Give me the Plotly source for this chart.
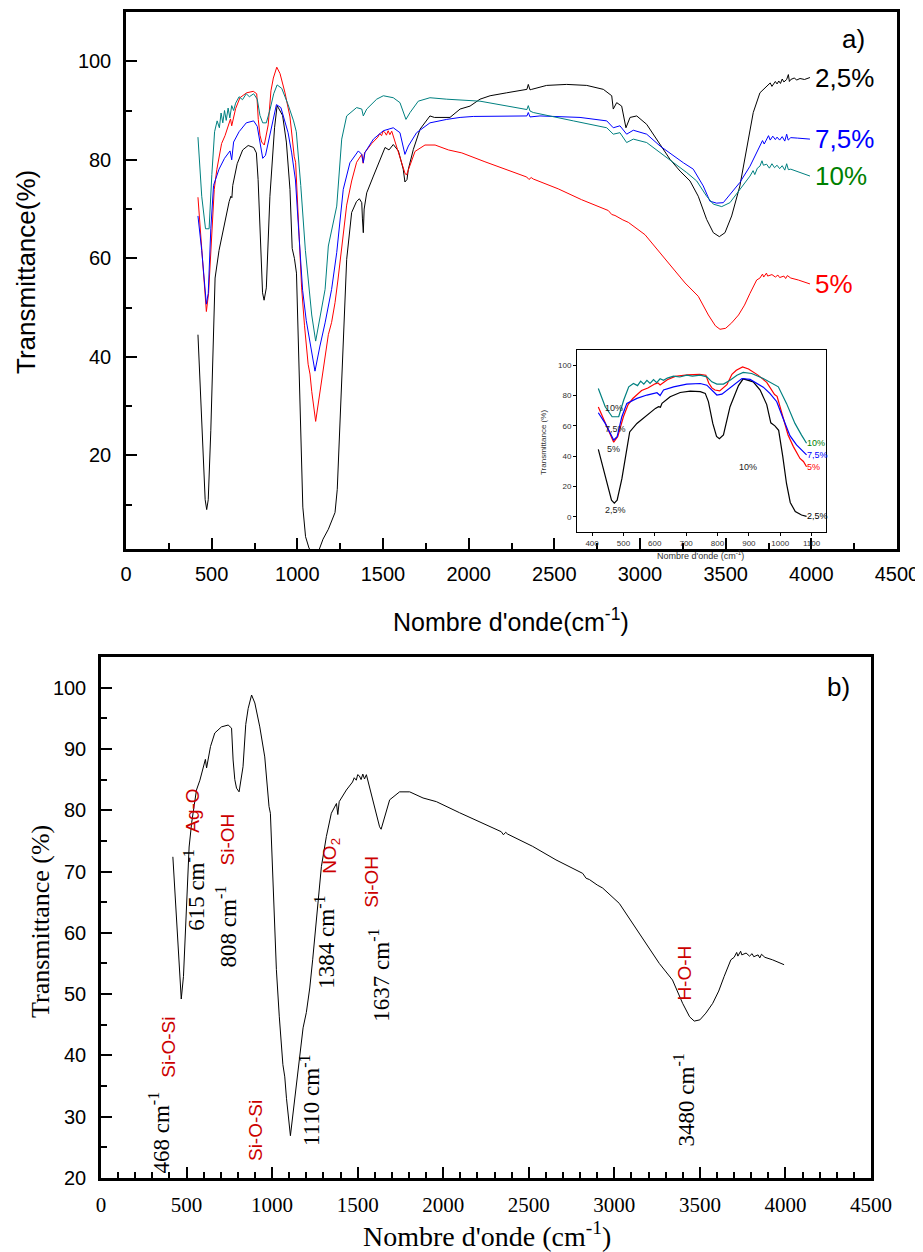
import plotly.graph_objects as go

# page body adds an 8px offset; the figure is sized so that the picture fills 923x1252
OFF = 8
W, H = 923 - OFF, 1252 - OFF

# ---------------- data (wavenumber cm-1, transmittance %) ----------------
wn_25 = [420, 445, 462, 471, 480, 495, 506, 520, 543, 575, 602, 612, 618, 623, 649, 681, 713,
         745, 761, 771, 785, 797, 806, 819, 840, 867, 882, 914, 936, 957, 970, 983, 995, 1008,
         1020, 1032, 1048, 1068, 1084, 1100, 1118, 1132, 1150, 1181, 1220, 1233, 1249, 1268,
         1288, 1317, 1345, 1362, 1376, 1380, 1385, 1390, 1395, 1405, 1444, 1483, 1512, 1535,
         1560, 1590, 1618, 1628, 1640, 1648, 1677, 1716, 1774, 1800, 1833, 1891, 1950, 2008,
         2066, 2125, 2222, 2319, 2340, 2348, 2358, 2368, 2455, 2572, 2689, 2786, 2835, 2844,
         2864, 2893, 2918, 2942, 2981, 3039, 3097, 3175, 3234, 3292, 3340, 3389, 3428, 3463,
         3496, 3535, 3583, 3622, 3661, 3700, 3739, 3760, 3770, 3778, 3790, 3800, 3810, 3820,
         3830, 3840, 3856, 3866, 3872, 3880, 3900, 3915, 3934, 3960, 3992]
t_25 = [44.5, 24, 11, 9, 11, 25, 38, 56, 61.6, 67.1, 71.5, 72.6, 72.3, 74.8, 79.2, 82.0, 82.9,
        82.5, 81.4, 76, 61.6, 53, 51.5, 54, 72.6, 86.5, 91, 89, 83.6, 74, 62, 60, 57, 40,
        22, 9.5, 3.5, 1.2, 0.3, -0.5, 0, 1.5, 3, 5, 8.4, 13.1, 26.6, 43.6,
        59.8, 69.3, 71.5, 72.1, 71.3, 68, 65.2, 70, 71.3, 73.3, 76.7, 80.1, 82.5, 82.0,
        83.1, 81.8, 78.1, 75.5, 76, 78.1, 82.1, 86.2, 88.9, 88.6, 88.6, 88.6, 90.3, 90.9,
        92.3, 93, 93.6, 94.3, 94.3, 95.3, 94.2, 94.3, 95.1, 95.3, 95.1, 94.3, 93, 90.3,
        91.6, 90.9, 86.5, 88.6, 88.9, 87.2, 84.2, 80.1, 77.7, 75.7, 72.6, 67.9, 65.2, 64.4,
        65.2, 68.6, 74.7, 82.1, 89.6, 93.6, 95, 95.6, 94.9, 95.3, 95.9, 95.4, 96.0, 95.5,
        96.4, 95.8, 96.3, 97.3, 95.9, 96.3, 96.6, 96.2, 96.5, 96.3, 96.7]

wn_5 = [420, 442, 469, 482, 500, 515, 530, 558, 578, 601, 610, 617, 626, 640, 665, 704, 743,
        763, 772, 782, 792, 807, 830, 846, 860, 880, 899, 928, 957, 982, 990, 1006, 1025,
        1042, 1063, 1074, 1084, 1107, 1132, 1162, 1181, 1200, 1220, 1237, 1255, 1268, 1288,
        1317, 1346, 1376, 1384, 1392, 1434, 1470, 1480, 1492, 1500, 1510, 1520, 1530, 1540,
        1551, 1560, 1570, 1599, 1628, 1637, 1648, 1687, 1745, 1804, 1882, 1960, 2095, 2212,
        2339, 2352, 2365, 2377, 2523, 2659, 2815, 2835, 2854, 2900, 2932, 3029, 3107, 3185,
        3263, 3340, 3399, 3440, 3467, 3500, 3535, 3575, 3610, 3642, 3681, 3700, 3715, 3722,
        3738, 3745, 3770, 3790, 3805, 3815, 3840, 3850, 3860, 3880, 3924, 3992]
t_5 = [72.4, 61.6, 49.2, 52.9, 66, 74, 78, 83.3, 84.9, 87.7, 88.3, 86.9, 88.2, 90.4, 92.6,
       93.6, 93.9, 93.4, 88.2, 85, 83.6, 83.0, 87.1, 94, 96.6, 98.8, 97.5, 93.6, 88.7, 80.6,
       79.5, 68.1, 54, 46.3, 38.5, 36.5, 33, 26.9, 32.7, 39.3, 44.5, 47, 51, 55.6, 61, 66,
       70.8, 75.7, 79.5, 81.1, 79.3, 81.4, 83.3, 84.6, 85.3, 84.9, 85.8, 85.6, 85.0, 85.9,
       85.1, 85.8, 84.8, 84.1, 80.6, 77.3, 76.9, 77.9, 81.7, 83.0, 83.0, 82.0, 81.4, 79.6,
       78.1, 76.5, 76.0, 76.4, 76.1, 74.1, 71.9, 69.7, 68.9, 68.7, 67.8, 67.3, 64.8, 61.6,
       58.3, 55.0, 52.3, 48.5, 46.3, 45.6, 45.8, 46.9, 48.5, 50.5, 52.9, 55.6, 56.0, 56.8,
       56.2, 57.0, 56.4, 56.7, 56.2, 56.6, 56.1, 56.4, 55.9, 56.5, 56.0, 55.6, 54.8]

wn_75 = [420, 442, 469, 480, 495, 511, 543, 575, 607, 617, 628, 660, 702, 745, 766, 782, 798,
         814, 836, 862, 878, 904, 925, 946, 967, 989, 1010, 1031, 1052, 1064, 1084, 1103,
         1132, 1162, 1200, 1230, 1268, 1307, 1356, 1376, 1385, 1395, 1444, 1502, 1560, 1599,
         1628, 1648, 1696, 1774, 1872, 1950, 2027, 2340, 2348, 2358, 2416, 2650, 2806, 2844,
         2883, 2922, 2961, 3039, 3117, 3195, 3253, 3311, 3369, 3408, 3447, 3486, 3525, 3583,
         3642, 3700, 3715, 3725, 3739, 3750, 3760, 3775, 3790, 3800, 3815, 3830, 3845, 3856,
         3865, 3880, 3920, 3992]
t_75 = [68.6, 61.6, 50.7, 52.9, 66, 74.8, 78.1, 80.3, 81.8, 80.0, 83.6, 85.7, 87.5, 87.9, 86.8,
        83.6, 80.3, 80.9, 84.6, 89.0, 91.2, 90.6, 87.9, 85.5, 81.4, 75.9, 64.5, 53.5, 47.4,
        44.9, 40.8, 37.1, 42.2, 46.9, 53.7, 61.2, 74, 79.4, 81.8, 81.1, 79.4, 81.5, 84.2,
        85.9, 86.5, 85.5, 81.1, 82.8, 85.5, 87.5, 88.2, 88.6, 88.8, 88.9, 89.6, 88.7, 88.9,
        88.6, 87.9, 86.5, 86.9, 85.2, 86, 85.2, 82.8, 80.8, 79.4, 78.1, 74.7, 71.6, 71.2,
        71.3, 73, 75.4, 78.7, 82.8, 83.9, 83.2, 84.2, 84.9, 84.0, 84.8, 84.1, 84.6, 84.0,
        84.7, 83.8, 85.2, 84.0, 84.5, 84.4, 84.2]

wn_10 = [420, 442, 464, 485, 501, 517, 532, 545, 555, 565, 575, 585, 596, 606, 617, 628, 640,
         660, 680, 702, 720, 745, 766, 782, 798, 819, 840, 862, 882, 909, 946, 978, 994, 1020,
         1047, 1068, 1084, 1107, 1132, 1162, 1181, 1230, 1259, 1288, 1346, 1376, 1385, 1405,
         1463, 1502, 1560, 1599, 1634, 1658, 1706, 1774, 1872, 1950, 2066, 2340, 2348, 2358,
         2377, 2611, 2806, 2844, 2883, 2922, 2961, 3039, 3117, 3195, 3273, 3331, 3389, 3428,
         3477, 3525, 3583, 3642, 3660, 3670, 3685, 3700, 3712, 3720, 3739, 3755, 3770, 3785,
         3800, 3815, 3830, 3845, 3856, 3866, 3880, 3934, 3992]
t_10 = [84.6, 72.6, 66, 66, 77, 85.7, 87.9, 86.5, 89.5, 87.5, 90, 88, 90.5, 88.5, 91, 90, 91.5,
        92.8, 92.2, 93.4, 92.8, 93.4, 92.3, 89.0, 87.5, 87.5, 90.1, 93.4, 95.2, 94.5, 91.2,
        87.9, 85.7, 74.8, 61.6, 53.9, 48.5, 43.2, 48.3, 53.7, 62.5, 70.6, 84.2, 88.9, 90.6,
        90.3, 88.9, 90.3, 92.3, 93, 92.6, 91.6, 88.2, 89.6, 91.9, 92.6, 92.3, 92.1, 91.9,
        90.2, 91.0, 89.9, 89.6, 87.9, 86.5, 85.2, 85.5, 83.5, 84.2, 83.5, 81.5, 79.4, 77.4,
        75.7, 72.6, 71, 70.5, 71.3, 74, 76.7, 77.8, 77.0, 78.3, 78.7, 79.8, 78.9, 79.1,
        78.3, 79.2, 78.4, 78.9, 78.2, 78.8, 77.9, 79.2, 78.0, 78.1, 77.4, 76.7]

series_names = ["2,5%", "5%", "7,5%", "10%"]
line_colors = ["black", "#ff0000", "#0000ff", "#008080"]
label_colors = ["black", "#ff0000", "#0000ff", "#008000"]
series_x = [wn_25, wn_5, wn_75, wn_10]
series_y = [t_25, t_5, t_75, t_10]

INSET_MAX = 1084

SANS = "Liberation Sans, Arial, sans-serif"
SERIF = "Liberation Serif, Times New Roman, serif"
RED = "#cc0000"

fig = go.Figure()

# ---------------- panel a) main ----------------
for nm, xs, ys, c in zip(series_names, series_x, series_y, line_colors):
    fig.add_trace(go.Scatter(x=xs, y=ys, mode="lines", line=dict(color=c, width=1),
                             xaxis="x", yaxis="y", showlegend=False, name=nm))

# ---------------- inset ----------------
for nm, xs, ys, c in zip(series_names, series_x, series_y, line_colors):
    xi = [a for a in xs if a <= INSET_MAX]
    yi = [b for a, b in zip(xs, ys) if a <= INSET_MAX]
    fig.add_trace(go.Scatter(x=xi, y=yi, mode="lines", line=dict(color=c, width=1.2),
                             xaxis="x3", yaxis="y3", showlegend=False, name=nm))

# ---------------- panel b) ----------------
fig.add_trace(go.Scatter(x=wn_5, y=t_5, mode="lines", line=dict(color="black", width=1),
                         xaxis="x2", yaxis="y2", showlegend=False, name="5%"))


def px(xp):
    return (xp - OFF) / W


def py(yp):
    return 1 - (yp - OFF) / H


# domains from pixel boxes (page pixels)
A_X = [px(126), px(897)]
A_Y = [py(549), py(12)]
B_X = [px(101), px(871)]
B_Y = [py(1178), py(657)]
I_X = [px(577), px(826)]
I_Y = [py(532), py(350)]

common = dict(showgrid=False, zeroline=False, showline=True, linecolor="black",
              ticks="inside", tickcolor="black", automargin=False)
mirror_common = dict(showgrid=False, zeroline=False, showline=False, ticks="inside",
                     tickcolor="black", ticklen=4, tickwidth=1.5, showticklabels=False,
                     automargin=False, tickmode="linear", tick0=0)

layout = dict(
    width=W, height=H, margin=dict(l=0, r=0, t=0, b=0, autoexpand=False),
    paper_bgcolor="white", plot_bgcolor="white", showlegend=False,
    xaxis=dict(domain=A_X, range=[0, 4500], anchor="y", tickmode="linear", tick0=0, dtick=500,
               ticklen=11, tickwidth=2, linewidth=2.5, mirror=True,
               minor=dict(dtick=250, ticks="inside", ticklen=6, tickwidth=1.5, tickcolor="black"),
               tickfont=dict(family=SANS, size=20, color="black"), ticklabelstandoff=5, **common),
    yaxis=dict(domain=A_Y, range=[1, 110], anchor="x", tickmode="linear", tick0=0, dtick=20,
               ticklen=11, tickwidth=2, linewidth=2.5, mirror=True,
               minor=dict(dtick=10, ticks="inside", ticklen=6, tickwidth=1.5, tickcolor="black"),
               tickfont=dict(family=SANS, size=20, color="black"), ticklabelstandoff=8, **common),
    xaxis4=dict(overlaying="x", side="top", anchor="y", range=[0, 4500], dtick=250, **mirror_common),
    yaxis4=dict(overlaying="y", side="right", anchor="x", range=[1, 110], dtick=10, **mirror_common),
    xaxis2=dict(domain=B_X, range=[0, 4500], anchor="y2", tickmode="linear", tick0=0, dtick=500,
                ticklen=11, tickwidth=2, linewidth=2.5, mirror=True,
                minor=dict(dtick=100, ticks="inside", ticklen=6, tickwidth=1.5, tickcolor="black"),
                tickfont=dict(family=SERIF, size=21, color="black"), ticklabelstandoff=6, **common),
    yaxis2=dict(domain=B_Y, range=[20, 105], anchor="x2", tickmode="linear", tick0=0, dtick=10,
                ticklen=11, tickwidth=2, linewidth=2.5, mirror=True,
                minor=dict(dtick=5, ticks="inside", ticklen=6, tickwidth=1.5, tickcolor="black"),
                tickfont=dict(family=SANS, size=20, color="black"), ticklabelstandoff=8, **common),
    xaxis5=dict(overlaying="x2", side="top", anchor="y2", range=[0, 4500], dtick=100, **mirror_common),
    yaxis5=dict(overlaying="y2", side="right", anchor="x2", range=[20, 105], dtick=5, **mirror_common),
    xaxis3=dict(domain=I_X, range=[352, 1146], anchor="y3", tickmode="linear", tick0=0, dtick=100,
                showgrid=False, zeroline=False, showline=True, linecolor="black", linewidth=1,
                mirror=True, ticks="outside", ticklen=3, tickwidth=1, tickcolor="black",
                automargin=False, tickfont=dict(family=SANS, size=8, color="#333")),
    yaxis3=dict(domain=I_Y, range=[-10, 110], anchor="x3", tickmode="linear", tick0=0, dtick=20,
                showgrid=False, zeroline=False, showline=True, linecolor="black", linewidth=1,
                mirror=True, ticks="outside", ticklen=3, tickwidth=1, tickcolor="black",
                automargin=False, tickfont=dict(family=SANS, size=8, color="#333")),
)
fig.update_layout(**layout)

ann = []

# panel a) titles
ann.append(dict(text="Nombre d'onde(cm<sup>-1</sup>)", x=px(511), y=py(620), xref="paper", yref="paper",
                showarrow=False, font=dict(family=SANS, size=25, color="black"),
                xanchor="center", yanchor="middle"))
ann.append(dict(text="Transmittance(%)", x=px(26), y=py(272), xref="paper", yref="paper",
                showarrow=False, textangle=-90, font=dict(family=SANS, size=26, color="black"),
                xanchor="center", yanchor="middle"))
ann.append(dict(text="a)", x=px(853), y=py(39), xref="paper", yref="paper", showarrow=False,
                font=dict(family=SANS, size=26, color="black"), xanchor="center", yanchor="middle"))

# series labels at line ends (panel a)
for nm, xs, ys, c in zip(series_names, series_x, series_y, label_colors):
    ann.append(dict(text=nm, x=xs[-1] + 18, y=ys[-1], xref="x", yref="y", showarrow=False,
                    font=dict(family=SANS, size=26, color=c), xanchor="left", yanchor="middle"))

# inset labels
for nm, xs, ys, c in zip(series_names, series_x, series_y, label_colors):
    yi = [b for a, b in zip(xs, ys) if a <= INSET_MAX]
    ann.append(dict(text=nm, x=1078, y=yi[-1], xref="x3", yref="y3", showarrow=False,
                    font=dict(family=SANS, size=9, color=c), xanchor="left", yanchor="middle"))
inset_left_labels = [("10%", 469, 71.5), ("7,5%", 474, 57.7), ("5%", 469, 44.5),
                     ("2,5%", 474, 4.6), ("10%", 898, 33.1)]
for t, xv, yv in inset_left_labels:
    ann.append(dict(text=t, x=xv, y=yv, xref="x3", yref="y3", showarrow=False,
                    font=dict(family=SANS, size=9, color="#222"), xanchor="center", yanchor="middle"))
ann.append(dict(text="Transmittance (%)", x=px(543), y=py(443), xref="paper", yref="paper",
                showarrow=False, textangle=-90, font=dict(family=SANS, size=8, color="#333"),
                xanchor="center", yanchor="middle"))
ann.append(dict(text="Nombre d'onde (cm<sup>-1</sup>)", x=px(700), y=py(555), xref="paper", yref="paper",
                showarrow=False, font=dict(family=SANS, size=9, color="#333"),
                xanchor="center", yanchor="middle"))

# panel b) titles
ann.append(dict(text="Nombre d'onde (cm<sup>-1</sup>)", x=px(487), y=py(1234), xref="paper", yref="paper",
                showarrow=False, font=dict(family=SERIF, size=28, color="black"),
                xanchor="center", yanchor="middle"))
ann.append(dict(text="Transmittance (%)", x=px(40), y=py(922), xref="paper", yref="paper",
                showarrow=False, textangle=-90, font=dict(family=SERIF, size=26, color="black"),
                xanchor="center", yanchor="middle"))
ann.append(dict(text="b)", x=px(838), y=py(687), xref="paper", yref="paper", showarrow=False,
                font=dict(family=SANS, size=26, color="black"), xanchor="center", yanchor="middle"))

# band assignments (panel b)
band_labels = [("468 cm<sup>-1</sup>", 344, 27.4), ("615 cm<sup>-1</sup>", 549, 67.0),
               ("808 cm<sup>-1</sup>", 735, 61.0), ("1110 cm<sup>-1</sup>", 1220, 32.7),
               ("1384 cm<sup>-1</sup>", 1307, 58.5), ("1637 cm<sup>-1</sup>", 1628, 53.1),
               ("3480 cm<sup>-1</sup>", 3409, 32.7)]
band_groups = [("Si-O-Si", 397, 41.4), ("Ag-O", 537, 79.9), ("Si-OH", 741, 75.2),
               ("Si-O-Si", 899, 27.8), ("NO<sub>2</sub>", 1348, 72.5), ("Si-OH", 1582, 68.3),
               ("H-O-H", 3409, 53.4)]
for t, xv, yv in band_labels:
    ann.append(dict(text=t, x=xv, y=yv, xref="x2", yref="y2", showarrow=False, textangle=-90,
                    font=dict(family=SERIF, size=23, color="black"),
                    xanchor="center", yanchor="middle"))
for t, xv, yv in band_groups:
    ann.append(dict(text=t, x=xv, y=yv, xref="x2", yref="y2", showarrow=False, textangle=-90,
                    font=dict(family=SANS, size=19, color=RED),
                    xanchor="center", yanchor="middle"))

fig.update_layout(annotations=ann)
fig.write_html("out.html")
